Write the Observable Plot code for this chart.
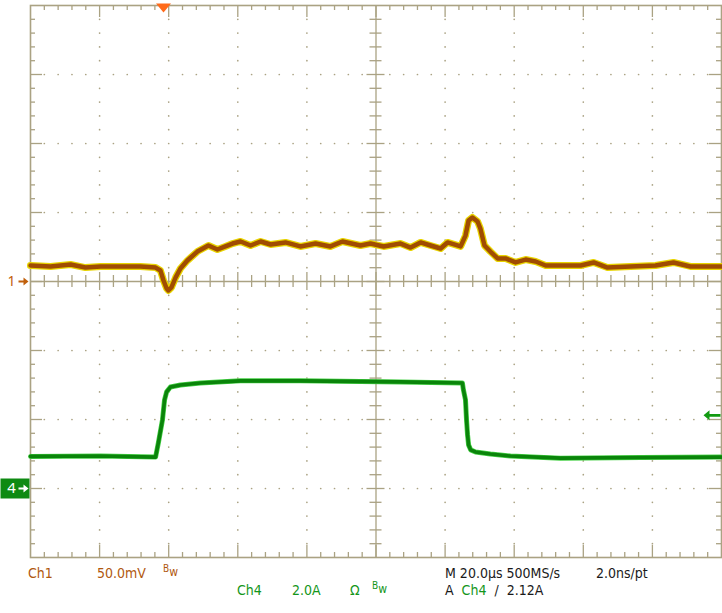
<!DOCTYPE html>
<html><head><meta charset="utf-8">
<script src="https://cdn.jsdelivr.net/npm/d3@7"></script>
<script src="https://cdn.jsdelivr.net/npm/@observablehq/plot@0.6"></script>
<style>
body{margin:0;background:#fff;}
#wrap{position:relative;width:722px;height:613px;overflow:hidden;font-family:"Liberation Sans Narrow","DejaVu Sans Condensed","Roboto Condensed",sans-serif;font-stretch:condensed;}
#wrap svg{position:absolute;left:0;top:0;}
.t{position:absolute;font-size:14px;white-space:nowrap;line-height:1;}
.b1{color:#b0580e;} .g4{color:#14961a;} .k{color:#1a1a1a;}
.sb{font-size:10px;position:relative;top:-4px;} .sw{font-size:12px;}
</style></head><body><div id="wrap"></div>
<script>
// Time axis (µs from left edge of screen), 20 µs/div, 10 divisions
const majorTimes = [0, 20, 40, 60, 80, 100, 120, 140, 160, 180, 200];
// Vertical divisions (8 div)
const majorDivs = [-4, -3, -2, -1, 0, 1, 2, 3, 4];

// Channel 1 (mV), 50 mV/div, ground at center
const ch1Time = [0, 5.8, 11.6, 15.9, 20.3, 26.0, 31.8, 36.2, 37.6, 38.5, 39.4, 39.9, 40.8, 42.0, 43.4, 45.4, 48.3, 51.5, 54.1, 56.4, 58.5, 60.8, 63.7, 66.6, 69.5, 73.8, 78.1, 82.5, 86.8, 90.3, 95.5, 98.4, 102.2, 107.1, 110.0, 112.9, 115.8, 118.7, 120.7, 124.5, 125.9, 126.8, 127.9, 129.4, 130.2, 131.4, 133.1, 135.2, 137.5, 140.4, 143.3, 146.2, 149.1, 153.4, 159.2, 163.0, 167.0, 173.7, 180.9, 186.1, 191.0, 200];
const ch1mV = [11.6, 10.9, 12.3, 10.1, 10.9, 10.9, 10.9, 10.1, 8.0, 0.7, -5.1, -6.5, -4.3, 2.9, 9.4, 15.2, 21.7, 26.1, 23.2, 25.4, 27.5, 29.0, 26.1, 29.0, 26.8, 28.3, 25.4, 27.5, 25.4, 29.0, 26.1, 27.5, 25.4, 27.5, 24.6, 28.3, 26.1, 23.9, 28.3, 25.4, 33.3, 44.2, 46.4, 43.5, 38.4, 26.1, 21.7, 16.7, 16.7, 13.8, 15.9, 14.5, 11.6, 11.6, 11.6, 13.8, 10.1, 10.9, 11.6, 13.8, 10.9, 10.9];
const ch1PerDiv = 50, ch1Ground = 0;

// Channel 4 (A), 2 A/div, ground 3 div below center
const ch4Time = [0, 20.3, 36.2, 37.0, 38.2, 38.8, 39.4, 40.5, 43.4, 49.2, 60.8, 78.1, 107.1, 125.0, 125.3, 125.9, 126.2, 126.5, 126.8, 127.4, 128.8, 133.1, 138.9, 153.4, 176.6, 200];
const ch4A = [0.93, 0.94, 0.91, 1.32, 1.99, 2.57, 2.80, 2.94, 3.00, 3.06, 3.12, 3.12, 3.09, 3.06, 2.86, 2.57, 1.99, 1.55, 1.26, 1.12, 1.06, 1.00, 0.94, 0.88, 0.90, 0.91];
const ch4PerDiv = 2, ch4Ground = -3;

const triggerTime = 38.5;
const triggerLevelA = 2.12;

const ch1 = ch1Time.map((t, i) => ({t, div: ch1Ground + ch1mV[i] / ch1PerDiv}));
const ch4 = ch4Time.map((t, i) => ({t, div: ch4Ground + ch4A[i] / ch4PerDiv}));

const gridColor = "#aaa283";
const W = 722, H = 613, mL = 30, mR = 1, mT = 5, mB = 56;
const pxT = 200 / (W - mL - mR);   // µs per pixel
const pxD = 8 / (H - mT - mB);     // div per pixel

const minorTimes = d3.range(0, 200.001, 4).map(v => +v.toFixed(3));
const minorDivs = d3.range(-4, 4.0001, 0.2).map(v => +v.toFixed(3));
const isMajorT = t => Math.abs(t / 20 - Math.round(t / 20)) < 1e-6;
const isMajorD = d => Math.abs(d - Math.round(d)) < 1e-6;

const dots = [];
for (const t of majorTimes) if (t !== 0 && t !== 100 && t !== 200)
  for (const d of minorDivs) if (Math.abs(d) < 3.99 && !(Math.abs(d) < 0.01)) dots.push({t, d});
for (const d of majorDivs) if (Math.abs(d) > 0.5 && Math.abs(d) < 3.5)
  for (const t of minorTimes) if (t > 0.01 && t < 199.99 && !isMajorT(t)) dots.push({t, d});

const innerT = minorTimes.filter(t => t > 0.01 && t < 199.99);
const innerD = minorDivs.filter(d => d > -3.99 && d < 3.99);
const tLen = t => (isMajorT(t) ? 12 : 5);
const dLen = d => (isMajorD(d) ? 12 : 5);

const tri = {draw(c) { c.moveTo(-7.5, -5); c.lineTo(7.5, -5); c.lineTo(0, 4); c.closePath(); }};
const arrowL = {draw(c) { c.moveTo(-9, 0); c.lineTo(-3, -5); c.lineTo(-3, -1.3); c.lineTo(8, -1.3); c.lineTo(8, 1.3); c.lineTo(-3, 1.3); c.lineTo(-3, 5); c.closePath(); }};
const arrowR = {draw(c) { c.moveTo(5, 0); c.lineTo(0, -4); c.lineTo(0, -1); c.lineTo(-5, -1); c.lineTo(-5, 1); c.lineTo(0, 1); c.lineTo(0, 4); c.closePath(); }};
const box = {draw(c) { c.rect(-30, -10, 29, 20); }};

const chart = Plot.plot({
  width: W, height: H,
  marginLeft: mL, marginRight: mR, marginTop: mT, marginBottom: mB,
  x: {domain: [0, 200], axis: null},
  y: {domain: [-4, 4], axis: null},
  style: {background: "transparent", overflow: "visible"},
  marks: [
    Plot.dot(dots, {x: "t", y: "d", r: 0.85, fill: gridColor, stroke: null}),
    Plot.ruleY([0], {stroke: gridColor, strokeWidth: 1.3}),
    Plot.ruleX([100], {stroke: gridColor, strokeWidth: 1.3}),
    // center axis ticks
    Plot.ruleX(innerT, {x: d => d, y1: d => -(isMajorT(d) ? 9 : 6) * pxD, y2: d => (isMajorT(d) ? 9 : 6) * pxD, stroke: gridColor, strokeWidth: 1.3}),
    Plot.ruleY(innerD, {y: d => d, x1: d => 100 - (isMajorD(d) ? 9 : 6) * pxT, x2: d => 100 + (isMajorD(d) ? 9 : 6) * pxT, stroke: gridColor, strokeWidth: 1.3}),
    // border ticks
    Plot.ruleX(innerT, {x: d => d, y1: 4, y2: d => 4 - tLen(d) * pxD, stroke: gridColor, strokeWidth: 1.3}),
    Plot.ruleX(innerT, {x: d => d, y1: -4, y2: d => -4 + tLen(d) * pxD, stroke: gridColor, strokeWidth: 1.3}),
    Plot.ruleY(innerD, {y: d => d, x1: 0, x2: d => dLen(d) * pxT, stroke: gridColor, strokeWidth: 1.3}),
    Plot.ruleY(innerD, {y: d => d, x1: 200, x2: d => 200 - dLen(d) * pxT, stroke: gridColor, strokeWidth: 1.3}),
    Plot.frame({stroke: gridColor, strokeWidth: 1.6}),
    // traces
    Plot.line(ch1, {x: "t", y: "div", stroke: "#e8d400", strokeWidth: 7, strokeLinejoin: "round"}),
    Plot.line(ch1, {x: "t", y: "div", stroke: "#a04c02", strokeWidth: 4.5, strokeLinejoin: "round"}),
    Plot.line(ch4, {x: "t", y: "div", stroke: "#46d046", strokeWidth: 5, strokeLinejoin: "round"}),
    Plot.line(ch4, {x: "t", y: "div", stroke: "#0a840a", strokeWidth: 3.6, strokeLinejoin: "round"}),
    // trigger position marker
    Plot.dot([triggerTime], {x: d => d, y: 4, symbol: tri, r: 5, fill: "#ff6a1a", stroke: null, dy: 3}),
    // trigger level marker
    Plot.dot([triggerLevelA], {x: 200, y: d => ch4Ground + d / ch4PerDiv, symbol: arrowL, r: 5, fill: "#129a12", stroke: null, dx: -9}),
    // channel ground markers
    Plot.text([ch1Ground], {x: 0, y: d => d, text: () => "1", dx: -19, fill: "#c0600c", fontSize: 14}),
    Plot.dot([ch1Ground], {x: 0, y: d => d, symbol: arrowR, r: 5, fill: "#c0600c", stroke: null, dx: -7}),
    Plot.dot([ch4Ground], {x: 0, y: d => d, symbol: box, r: 5, fill: "#0e8a12", stroke: null}),
    Plot.text([ch4Ground], {x: 0, y: d => d, text: () => "4", dx: -19, fill: "#fff", fontSize: 15}),
    Plot.dot([ch4Ground], {x: 0, y: d => d, symbol: arrowR, r: 5, fill: "#fff", stroke: null, dx: -7})
  ]
});
const wrap = document.getElementById("wrap");
wrap.appendChild(chart);

const labels = [
  {x: 28, y: 566, cls: "b1", html: "Ch1"},
  {x: 97, y: 566, cls: "b1", html: "50.0mV"},
  {x: 163, y: 564, cls: "b1", html: '<span class="sb">B</span><span class="sw">w</span>'},
  {x: 237, y: 583, cls: "g4", html: "Ch4"},
  {x: 292, y: 583, cls: "g4", html: "2.0A"},
  {x: 350, y: 583, cls: "g4", html: "Ω"},
  {x: 372, y: 581, cls: "g4", html: '<span class="sb">B</span><span class="sw">w</span>'},
  {x: 445, y: 566, cls: "k", html: "M 20.0µs 500MS/s"},
  {x: 596, y: 566, cls: "k", html: "2.0ns/pt"},
  {x: 445, y: 583, cls: "k", html: 'A <span class="g4">&nbsp;Ch4</span> &nbsp;/ &nbsp;2.12A'}
];
for (const l of labels) {
  const s = document.createElement("div");
  s.className = "t " + l.cls;
  s.style.left = l.x + "px"; s.style.top = l.y + "px";
  s.innerHTML = l.html;
  wrap.appendChild(s);
}
</script>
</body></html>
